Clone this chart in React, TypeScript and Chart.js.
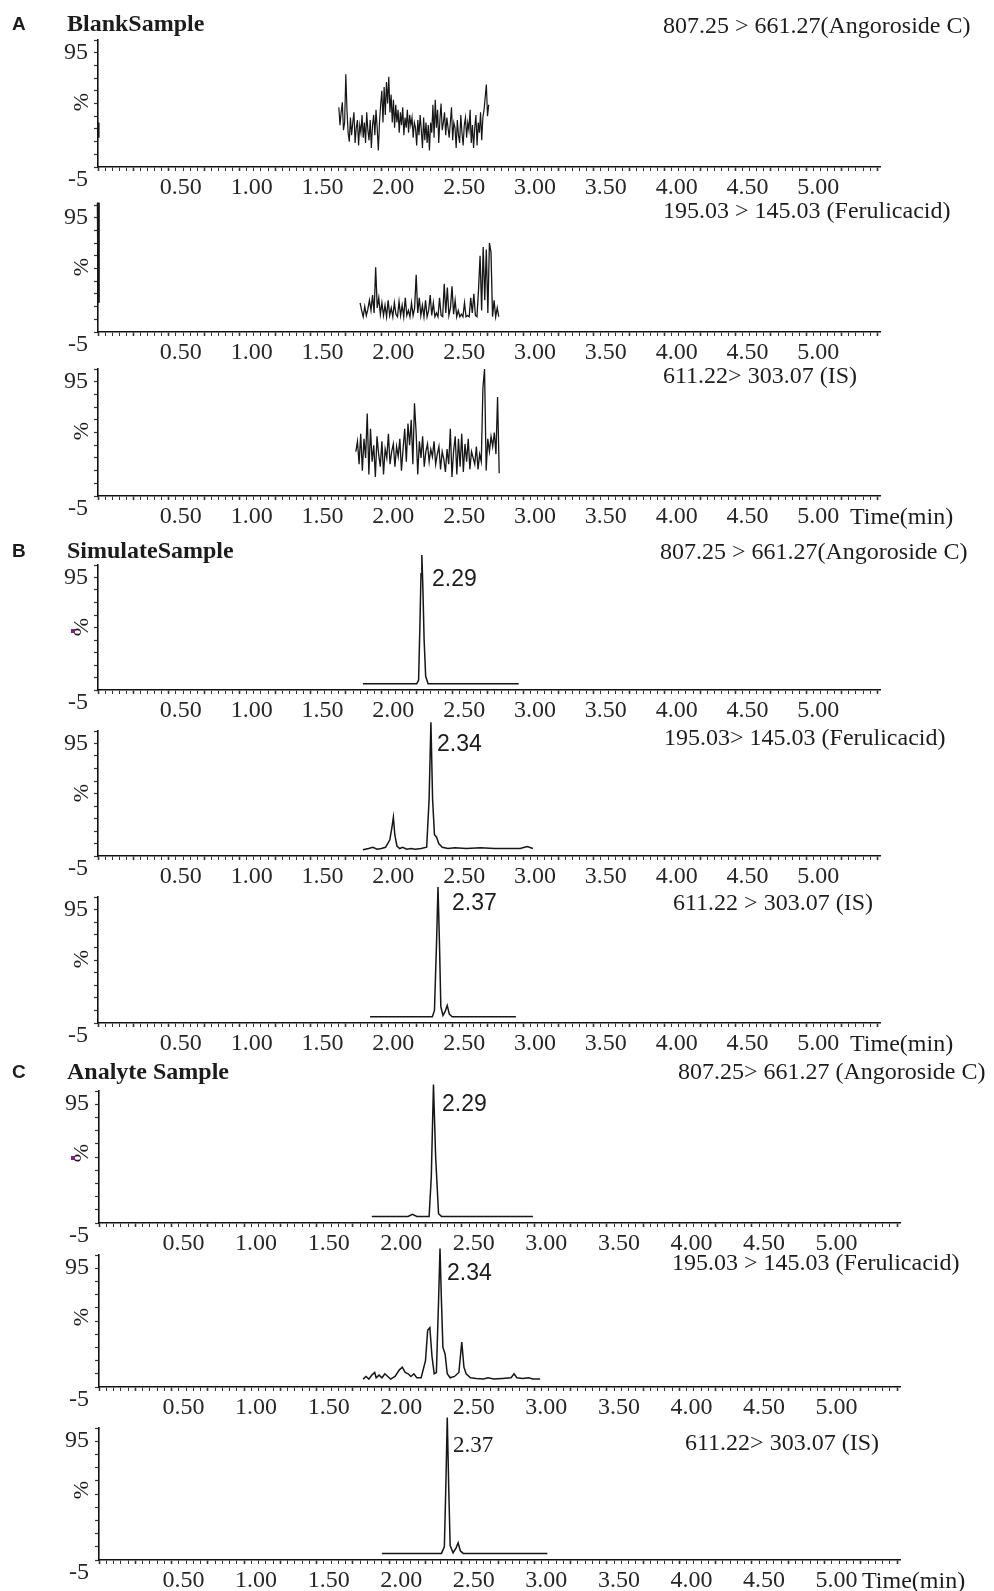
import React, { useEffect, useRef } from 'react';
import { Chart, registerables } from 'chart.js';
Chart.register(...registerables);

// ---------- axis labels ----------
const xTickLabels = ['0.50', '1.00', '1.50', '2.00', '2.50', '3.00', '3.50', '4.00', '4.50', '5.00'];
const yTickLabels = ['95', '-5'];
const X_MIN = 0;
const X_MAX = 5.52;
const Y_MIN = -5;
const Y_MAX = 95;

// ---------- A: blank sample (noise traces, evenly sampled) ----------
const blankAngStart = 1.70;
const blankAngStep = 0.0082;
const blankAngValues = [
  42, 28, 38, 46, 24, 30, 68, 40, 22, 15,
  34, 20, 30, 38, 14, 26, 32, 12, 28, 22,
  36, 18, 30, 14, 38, 24, 16, 32, 10, 28,
  36, 20, 40, 26, 8, 30, 44, 55, 30, 58,
  36, 62, 45, 66, 38, 52, 30, 48, 26, 44,
  30, 40, 22, 38, 28, 42, 20, 34, 26, 40,
  22, 36, 28, 34, 18, 30, 26, 12, 32, 20,
  36, 24, 10, 34, 16, 30, 14, 28, 8, 30,
  22, 44, 18, 48, 26, 40, 14, 32, 45, 24,
  30, 38, 20, 34, 26, 18, 30, 42, 16, 30,
  26, 10, 32, 20, 14, 36, 22, 12, 28, 34,
  18, 30, 24, 40, 14, 28, 10, 26, 36, 12,
  30, 22, 38, 16, 34, 40, 50, 60, 35, 44,
];
const blankAngEdgeTimes = [0, 0.004];
const blankAngEdgeValues = [30, 18];

const blankFerStart = 1.85;
const blankFerStep = 0.011;
const blankFerValues = [18, 12, 7, 15, 8, 13, 20, 12, 24, 10, 46, 14, 22, 9, 18, 8, 16, 7, 20, 8, 14, 7, 18, 9, 7, 19, 8, 16, 7, 22, 8, 12, 7, 18, 8, 14, 40, 10, 22, 8, 16, 7, 20, 7, 12, 24, 8, 18, 7, 10, 7, 22, 8, 7, 33, 10, 30, 8, 14, 31, 9, 20, 7, 12, 7, 9, 7, 18, 7, 8, 7, 22, 10, 25, 8, 7, 28, 55, 12, 62, 20, 60, 10, 65, 58, 7, 20, 7, 14, 7];
const blankFerEdgeTimes = [0, 0.004];
const blankFerEdgeValues = [97, 18];

const blankISStart = 1.82;
const blankISStep = 0.0115;
const blankISValues = [30, 38, 20, 44, 15, 40, 25, 60, 12, 48, 22, 35, 10, 42, 28, 18, 38, 12, 32, 25, 44, 20, 30, 36, 18, 34, 26, 40, 15, 32, 48, 22, 52, 35, 55, 20, 68, 45, 12, 38, 25, 42, 18, 30, 36, 22, 32, 26, 38, 20, 28, 34, 16, 30, 24, 14, 32, 20, 48, 10, 30, 42, 12, 40, 18, 44, 14, 36, 22, 40, 16, 30, 25, 20, 34, 16, 28, 22, 80, 95, 15, 40, 30, 42, 34, 45, 28, 73, 13];

// ---------- B: simulate sample ----------
const simAngTimes = [1.87, 2.25, 2.263, 2.272, 2.28, 2.286, 2.293, 2.302, 2.313, 2.33, 2.97];
const simAngValues = [0, 0, 3, 45, 88, 103, 78, 35, 6, 0, 0];

const simFerTimes = [1.87, 1.91, 1.94, 1.97, 2.0, 2.03, 2.06, 2.075, 2.085, 2.095, 2.11, 2.13, 2.15, 2.18, 2.21, 2.24, 2.28, 2.32, 2.337, 2.35, 2.362, 2.375, 2.39, 2.405, 2.43, 2.47, 2.52, 2.6, 2.7, 2.8, 2.9, 2.98, 3.03, 3.07];
const simFerValues = [0, 1, 2, 0.5, 1, 2, 8, 18, 26, 12, 3, 1, 2, 0.5, 1, 0.5, 1, 2, 40, 102, 40, 12, 10, 5, 2, 1, 1.5, 1, 1.5, 1, 1, 1, 2.5, 1];

const simISTimes = [1.92, 2.36, 2.375, 2.39, 2.4, 2.41, 2.42, 2.435, 2.45, 2.465, 2.48, 2.5, 2.95];
const simISValues = [0, 0, 5, 60, 103, 60, 8, 1, 4, 9, 2, 0, 0];

// ---------- C: analyte sample ----------
const anaAngTimes = [1.88, 2.13, 2.16, 2.19, 2.275, 2.29, 2.305, 2.32, 2.34, 2.36, 2.99];
const anaAngValues = [0, 0, 1.5, 0, 0, 30, 100, 45, 2, 0, 0];

const anaFerTimes = [1.82, 1.84, 1.86, 1.88, 1.9, 1.91, 1.93, 1.95, 1.97, 1.99, 2.01, 2.04, 2.07, 2.09, 2.11, 2.13, 2.15, 2.17, 2.19, 2.22, 2.25, 2.265, 2.28, 2.295, 2.31, 2.325, 2.34, 2.35, 2.36, 2.37, 2.385, 2.4, 2.42, 2.45, 2.48, 2.5, 2.515, 2.53, 2.56, 2.6, 2.65, 2.68, 2.72, 2.78, 2.84, 2.86, 2.88, 2.92, 2.96, 2.99, 3.04];
const anaFerValues = [1, 3, 1, 4, 6, 2, 4, 2, 5, 3, 1, 3, 8, 10, 6, 5, 3, 5, 2, 2, 15, 38, 40, 18, 5, 6, 60, 100, 60, 25, 20, 5, 2, 3, 6, 29, 10, 5, 2, 1.5, 1, 2, 1, 1.5, 2, 5, 2, 1.5, 2, 1, 1];

const anaISTimes = [1.95, 2.36, 2.38, 2.39, 2.4, 2.41, 2.42, 2.44, 2.46, 2.475, 2.49, 2.51, 3.09];
const anaISValues = [0, 0, 5, 50, 103, 50, 6, 0.5, 4, 8, 2, 0, 0];

// ---------- text ----------
const groupLetters = ['A', 'B', 'C'];
const groupTitles = ['BlankSample', 'SimulateSample', 'Analyte Sample'];
const channelLabels = [
  '807.25 > 661.27(Angoroside C)', '195.03 > 145.03 (Ferulicacid)', '611.22> 303.07 (IS)',
  '807.25 > 661.27(Angoroside C)', '195.03> 145.03 (Ferulicacid)', '611.22 > 303.07 (IS)',
  '807.25> 661.27 (Angoroside C)', '195.03 > 145.03 (Ferulicacid)', '611.22> 303.07 (IS)',
];
const peakLabels = ['2.29', '2.34', '2.37', '2.29', '2.34', '2.37'];
const timeUnit = 'Time(min)';
const yAxisTitle = '%';

// ---------- helpers ----------
type Pt = { x: number; y: number };
const evenSeries = (start: number, step: number, values: number[]): Pt[] =>
  values.map((v, i) => ({ x: start + i * step, y: v }));
const pairSeries = (times: number[], values: number[]): Pt[] =>
  times.map((t, i) => ({ x: t, y: values[i] }));

const SERIF = "'Liberation Serif', 'Times New Roman', serif";
const SANS = "'Liberation Sans', Arial, sans-serif";
const PAD_TOP = 24;
const X_AXIS_H = 42;
const W = 994;

type Trace = { points: Pt[]; width: number };
type PanelSpec = { top: number; bottom: number; left: number; right: number; traces: Trace[] };

const panels: PanelSpec[] = [
  { top: 40, bottom: 167, left: 98, right: 880, traces: [
    { points: evenSeries(blankAngStart, blankAngStep, blankAngValues), width: 1.2 },
    { points: pairSeries(blankAngEdgeTimes, blankAngEdgeValues), width: 2 },
  ] },
  { top: 205, bottom: 332, left: 98, right: 880, traces: [
    { points: evenSeries(blankFerStart, blankFerStep, blankFerValues), width: 1.3 },
    { points: pairSeries(blankFerEdgeTimes, blankFerEdgeValues), width: 2.5 },
  ] },
  { top: 369, bottom: 496, left: 98, right: 880, traces: [
    { points: evenSeries(blankISStart, blankISStep, blankISValues), width: 1.3 },
  ] },
  { top: 565, bottom: 690, left: 98, right: 880, traces: [
    { points: pairSeries(simAngTimes, simAngValues), width: 1.5 },
  ] },
  { top: 731, bottom: 856, left: 98, right: 880, traces: [
    { points: pairSeries(simFerTimes, simFerValues), width: 1.5 },
  ] },
  { top: 897, bottom: 1023, left: 98, right: 880, traces: [
    { points: pairSeries(simISTimes, simISValues), width: 1.5 },
  ] },
  { top: 1091, bottom: 1223, left: 99, right: 900, traces: [
    { points: pairSeries(anaAngTimes, anaAngValues), width: 1.5 },
  ] },
  { top: 1255, bottom: 1387, left: 99, right: 900, traces: [
    { points: pairSeries(anaFerTimes, anaFerValues), width: 1.5 },
  ] },
  { top: 1428, bottom: 1560, left: 99, right: 900, traces: [
    { points: pairSeries(anaISTimes, anaISValues), width: 1.5 },
  ] },
];

const xTickValues = Array.from({ length: 111 }, (_, i) => Math.round(i * 5) / 100);
const yTickValues = Array.from({ length: 11 }, (_, i) => Y_MIN + i * 10);

const xLabelFor = (v: number) => {
  const hit = xTickLabels.find((l) => Math.abs(parseFloat(l) - v) < 1e-6);
  return hit ?? '';
};
const yLabelFor = (v: number) => {
  const hit = yTickLabels.find((l) => Math.abs(parseFloat(l) - v) < 1e-6);
  return hit ?? '';
};

function Panel({ spec }: { spec: PanelSpec }) {
  const ref = useRef<HTMLCanvasElement>(null);
  const height = PAD_TOP + (spec.bottom - spec.top) + X_AXIS_H;
  useEffect(() => {
    if (!ref.current) return;
    const chart = new Chart(ref.current, {
      type: 'line',
      data: {
        datasets: spec.traces.map((t) => ({
          data: t.points,
          borderColor: '#161616',
          borderWidth: t.width,
          pointRadius: 0,
          tension: 0,
          fill: false,
          clip: false as any,
        })),
      },
      options: {
        responsive: false,
        animation: false,
        events: [],
        devicePixelRatio: 1,
        layout: { padding: { top: PAD_TOP, right: W - spec.right, left: 0, bottom: 0 } },
        plugins: { legend: { display: false }, tooltip: { enabled: false } },
        scales: {
          x: {
            type: 'linear',
            min: X_MIN,
            max: X_MAX,
            afterBuildTicks: (s: any) => { s.ticks = xTickValues.map((v) => ({ value: v })); },
            afterFit: (s: any) => { s.height = X_AXIS_H; s.paddingLeft = 0; s.paddingRight = 0; },
            ticks: {
              autoSkip: false,
              maxRotation: 0,
              minRotation: 0,
              labelOffset: 12,
              padding: 2,
              color: '#262626',
              font: { family: SERIF, size: 24 },
              callback: (v: any) => xLabelFor(Number(v)),
            },
            grid: {
              drawOnChartArea: false,
              tickLength: 4,
              tickColor: '#333',
              tickWidth: (ctx: any) => (Math.abs((ctx.tick?.value ?? 0) * 4 - Math.round((ctx.tick?.value ?? 0) * 4)) < 1e-6 ? 1.6 : 1),
            },
            border: { color: '#111', width: 1.6 },
          },
          y: {
            type: 'linear',
            min: Y_MIN,
            max: Y_MAX,
            afterBuildTicks: (s: any) => { s.ticks = yTickValues.map((v) => ({ value: v })); },
            afterFit: (s: any) => { s.width = spec.left; s.paddingTop = 0; s.paddingBottom = 0; },
            ticks: {
              autoSkip: false,
              labelOffset: 13,
              padding: 6,
              color: '#262626',
              font: { family: SERIF, size: 24 },
              callback: (v: any) => yLabelFor(Number(v)),
            },
            grid: { drawOnChartArea: false, tickLength: 4, tickColor: '#333', tickWidth: 1.2 },
            border: { color: '#111', width: 1.6 },
          },
        },
      } as any,
    });
    return () => chart.destroy();
  }, []);
  return (
    <canvas
      ref={ref}
      width={W}
      height={height}
      style={{ position: 'absolute', left: 0, top: spec.top - PAD_TOP, width: W, height }}
    />
  );
}

type TextSpec = { x: number; y: number; text: string; size?: number; family?: string; weight?: number };

const Txt = ({ x, y, text, size = 24, family = SERIF, weight = 400 }: TextSpec) => (
  <div
    style={{
      position: 'absolute', left: x, top: y, transform: 'translateY(-50%)',
      fontFamily: family, fontSize: size, fontWeight: weight, lineHeight: 1,
      whiteSpace: 'nowrap', color: '#1c1c1c',
    }}
  >
    {text}
  </div>
);

const groupY = [23, 550, 1071];
const channelPos = [
  [663, 25], [663, 210], [663, 375],
  [660, 551], [664, 737], [673, 902],
  [678, 1071], [672, 1262], [685, 1442],
];
const peakPos = [
  [432, 578, SANS], [437, 743, SANS], [452, 902, SANS],
  [442, 1103, SANS], [447, 1272, SANS], [453, 1444, SERIF],
];
const timePos = [[850, 516], [850, 1043], [862, 1580]];
const purpleDots = [[71, 629], [71, 1156]];

export default function App() {
  return (
    <div style={{ position: 'absolute', left: 0, top: 0, width: W, height: 1591, background: '#fff', overflow: 'hidden' }}>
      {panels.map((p, i) => <Panel key={i} spec={p} />)}
      {groupLetters.map((g, i) => (
        <React.Fragment key={g}>
          <Txt x={12} y={groupY[i]} text={g} size={19} family={SANS} weight={700} />
          <Txt x={67} y={groupY[i]} text={groupTitles[i]} size={24} family={SERIF} weight={700} />
        </React.Fragment>
      ))}
      {channelLabels.map((c, i) => <Txt key={'c' + i} x={channelPos[i][0]} y={channelPos[i][1]} text={c} />)}
      {peakLabels.map((p, i) => (
        <Txt key={'p' + i} x={peakPos[i][0] as number} y={peakPos[i][1] as number} text={p} family={peakPos[i][2] as string} size={23} />
      ))}
      {timePos.map((t, i) => <Txt key={'t' + i} x={t[0]} y={t[1]} text={timeUnit} />)}
      {panels.map((p, i) => (
        <div
          key={'pct' + i}
          style={{
            position: 'absolute', left: 81, top: p.top + 62, transform: 'translate(-50%, -50%) rotate(-90deg)',
            fontFamily: SERIF, fontSize: 22, lineHeight: 1, color: '#1c1c1c',
          }}
        >
          {yAxisTitle}
        </div>
      ))}
      {purpleDots.map((d, i) => (
        <div key={'d' + i} style={{ position: 'absolute', left: d[0], top: d[1], width: 4, height: 4, background: '#8a1c8a' }} />
      ))}
    </div>
  );
}
